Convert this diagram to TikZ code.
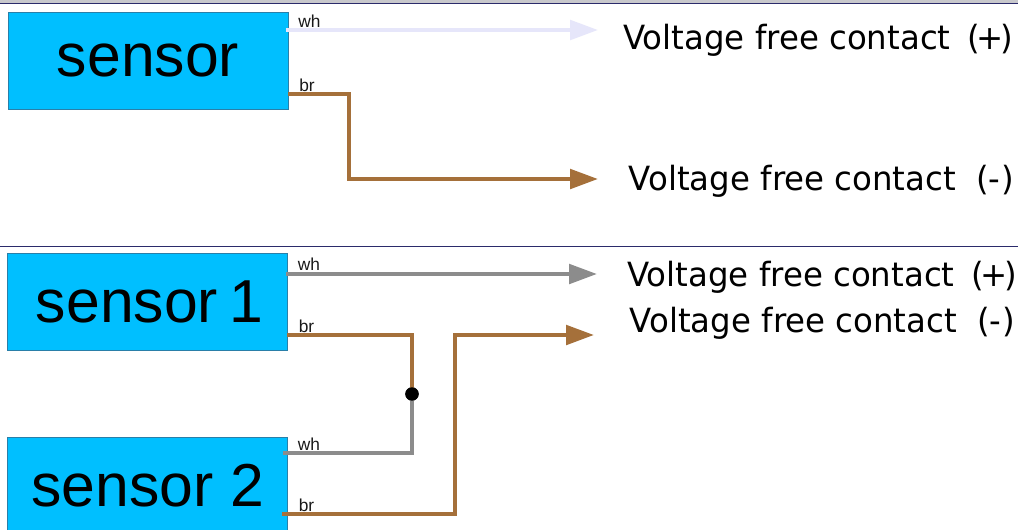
\documentclass[tikz,border=0pt]{standalone}
\usepackage{fontspec}
\setmainfont{Liberation Sans}
\newfontfamily\vffont[FakeStretch=0.972]{DejaVu Sans}
\usetikzlibrary{arrows.meta}
\definecolor{boxblue}{HTML}{00BFFF}
\definecolor{boxedge}{HTML}{2A7FA8}
\definecolor{wirebrown}{HTML}{A5703A}
\definecolor{wiregrey}{HTML}{8C8C8C}
\definecolor{wirepale}{HTML}{E6E6FA}
\definecolor{rulenavy}{HTML}{2B2B6B}
\definecolor{stripgrey}{HTML}{C8C8CC}
\tikzset{
  x=0.75pt,y=-0.75pt,
  sensorbox/.style={draw=boxedge,line width=0.6pt,fill=boxblue,inner sep=0pt,minimum width=210pt,minimum height=72.75pt,font=\fontsize{45.5pt}{50pt}\selectfont,text=black},
  pinlabel/.style={anchor=base west,inner sep=0pt,font=\fontsize{13pt}{15pt}\selectfont,text=black!90},
  contact/.style={anchor=base west,inner sep=0pt,font=\vffont\fontsize{25pt}{30pt}\selectfont,text=black},
  wirebase/.style={line width=3.2pt,line join=miter},
  tipped/.style={-{Triangle[length=21pt,width=14.5pt]}},
  brownwire/.style={wirebase,draw=wirebrown},
  greywire/.style={wirebase,draw=wiregrey},
  palewire/.style={wirebase,draw=wirepale},
  joint/.style={circle,fill=black,inner sep=0pt,minimum size=10pt},
  divider/.style={line width=0.8pt,draw=rulenavy}
}
\newcommand{\plusend}{contact\kern5pt\ (\kern-2.5pt+\kern-2.5pt)}
\newcommand{\minusend}{contact\kern7.5pt\ (-\kern0.8pt)}
\begin{document}
\begin{tikzpicture}
\useasboundingbox (0,0) rectangle (1018,529);
\clip (0,0) rectangle (1018,529);
\fill[white] (0,0) rectangle (1018,529);
\fill[stripgrey] (0,0) rectangle (1018,3);
\coordinate (topL) at (0,3.3); \coordinate (topR) at (1018,3.3);
\coordinate (midL) at (0,246.5); \coordinate (midR) at (1018,246.5);
\draw[divider] (topL) -- (topR);
\draw[divider] (midL) -- (midR);

\node[sensorbox] (sensorA) at (148,60.5) {\raisebox{-0.75pt}{sensor}};
\node[sensorbox] (sensorB) at (147,301.7) {\hspace*{4pt}sensor\hspace{-4pt} 1};
\node[sensorbox] (sensorC) at (147,485.5) {\hspace*{1.5pt}sensor 2};

\node[pinlabel] (lblAwh) at (298,27.5) {wh};
\node[pinlabel] (lblAbr) at (299,91.5) {br};
\node[pinlabel] (lblBwh) at (297.5,270) {wh};
\node[pinlabel] (lblBbr) at (298.5,332) {br};
\node[pinlabel] (lblCwh) at (297.5,450) {wh};
\node[pinlabel] (lblCbr) at (298.5,511) {br};

\node[contact] (vfA) at (623,49) {Voltage free \plusend};
\node[contact] (vfB) at (628.5,190) {Voltage free \minusend};
\node[contact] (vfC) at (627,286) {Voltage free \plusend};
\node[contact] (vfD) at (629.5,332) {Voltage free \minusend};

\coordinate (Aw0) at (286,30); \coordinate (Aw1) at (598,30);
\coordinate (Ab0) at (288,94); \coordinate (Ab1) at (349,94); \coordinate (Ab2) at (349,179); \coordinate (Ab3) at (598,179);
\coordinate (Bw0) at (286,274); \coordinate (Bw1) at (597,274);
\coordinate (Bb0) at (287,335); \coordinate (Bb1) at (412,335);
\coordinate (Cw0) at (283,453); \coordinate (Cw1) at (412,453);
\coordinate (Cb0) at (282,514); \coordinate (Cb1) at (455,514); \coordinate (Cb2) at (455,335); \coordinate (Cb3) at (594,335);
\node[joint] (dot) at (412,394) {};

\draw[palewire,tipped] (Aw0) -- (Aw1);
\draw[brownwire,tipped] (Ab0) -- (Ab1) -- (Ab2) -- (Ab3);
\draw[greywire,tipped] (Bw0) -- (Bw1);
\draw[brownwire] (Bb0) -- (Bb1) -- (dot.center);
\draw[greywire] (Cw0) -- (Cw1) -- (dot.center);
\draw[brownwire,tipped] (Cb0) -- (Cb1) -- (Cb2) -- (Cb3);
\node[joint] at (dot) {};
\end{tikzpicture}
\end{document}
